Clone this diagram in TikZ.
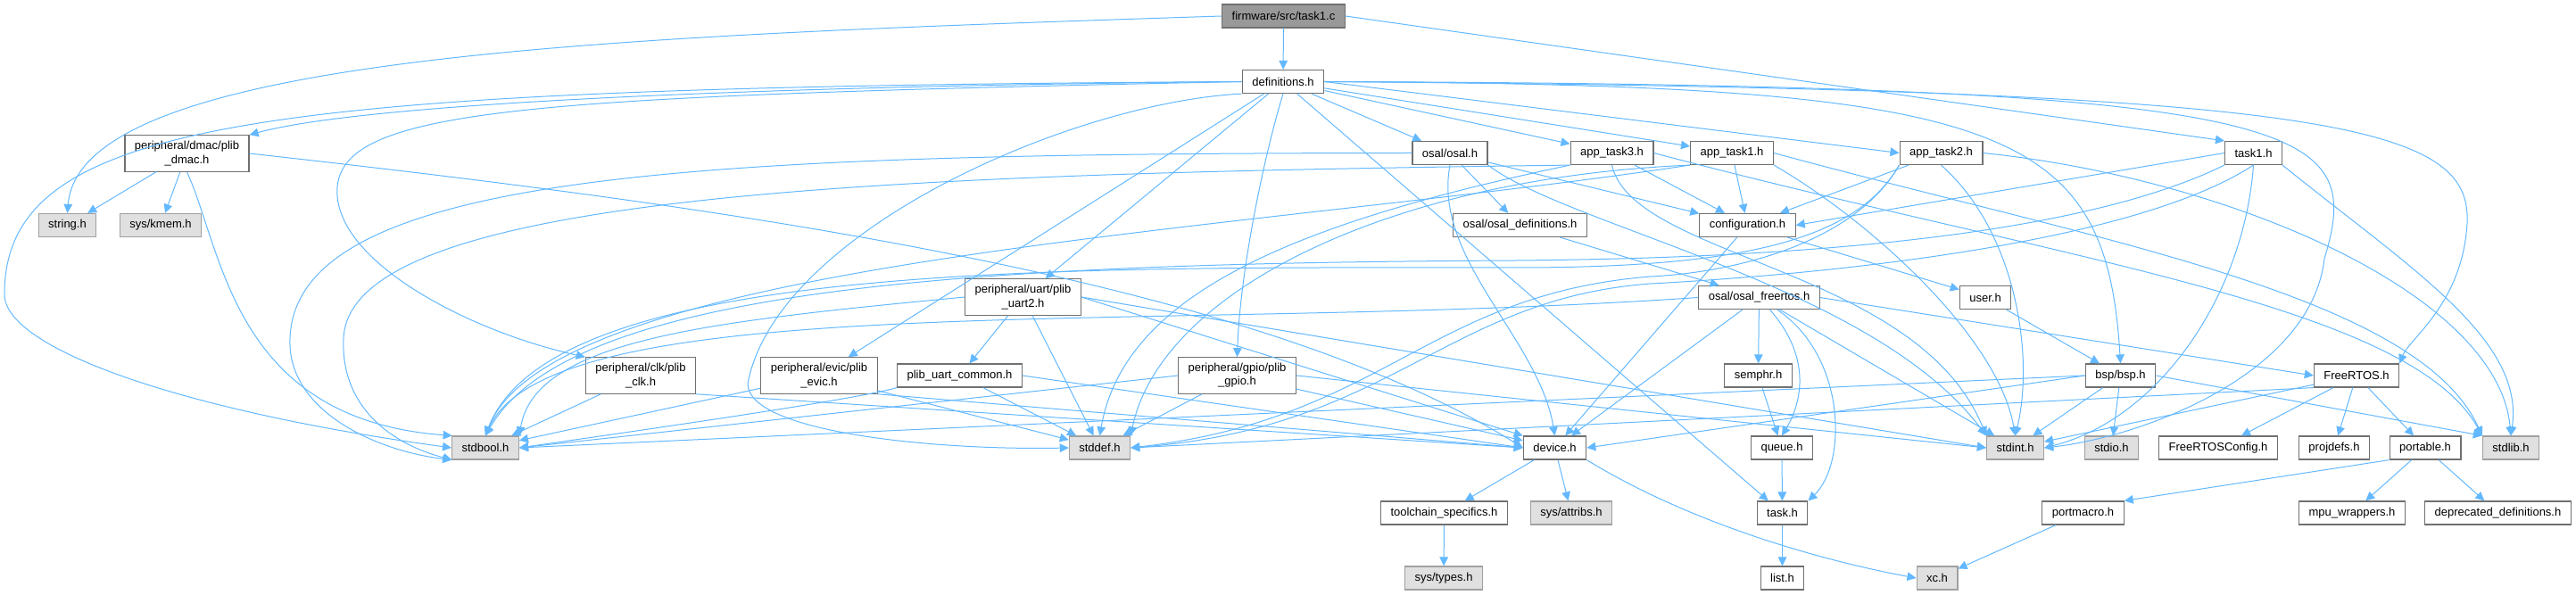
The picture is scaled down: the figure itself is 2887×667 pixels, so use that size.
\documentclass[tikz,border=0pt]{standalone}
\usepackage{fontspec}
\setmainfont{Liberation Sans}
\usepackage{tikz}
\usetikzlibrary{arrows.meta}
\definecolor{edgeblue}{HTML}{63B8FF}
\definecolor{boxline}{HTML}{707070}
\definecolor{sysline}{HTML}{A0A0A0}
\definecolor{sysfill}{HTML}{E0E0E0}
\definecolor{rootfill}{HTML}{999999}

\begin{document}
\begin{tikzpicture}[x=0.5pt, y=-0.5pt,
  file/.style={draw=boxline, fill=white, line width=0.6pt, font=\fontsize{6.5}{7.6}\selectfont,
    inner xsep=5.5pt, inner ysep=3.3pt, minimum height=13pt, align=center},
  sysfile/.style={file, draw=sysline, fill=sysfill},
  rootfile/.style={file, fill=rootfill},
  dep/.style={draw=edgeblue, line width=0.5pt, -{Triangle[length=5pt, width=4.8pt]}}]
  \useasboundingbox (0,0) rectangle (2887,667);

  % Files
  \node[rootfile] (task1c) at (1438.5,18) {firmware/src/task1.c};
  \node[file] (defs) at (1438,91.5) {definitions.h};
  \node[file] (dmac) at (209.5,172) {peripheral/dmac/plib\\\_dmac.h};
  \node[sysfile] (stringh) at (75.5,252.5) {string.h};
  \node[sysfile] (kmem) at (180,252.5) {sys/kmem.h};
  \node[file] (osal) at (1625,171.5) {osal/osal.h};
  \node[file] (apptask3) at (1806.5,171.5) {app\_task3.h};
  \node[file] (apptask1) at (1941,171.5) {app\_task1.h};
  \node[file] (apptask2) at (2175.5,171.5) {app\_task2.h};
  \node[file] (task1h) at (2525.5,171.5) {task1.h};
  \node[file] (osaldefs) at (1703.5,252.5) {osal/osal\_definitions.h};
  \node[file] (config) at (1958.5,252.5) {configuration.h};
  \node[file] (uart2) at (1146.5,333) {peripheral/uart/plib\\\_uart2.h};
  \node[file] (osalfreertos) at (1971.5,333.5) {osal/osal\_freertos.h};
  \node[file] (user) at (2225,333.5) {user.h};
  \node[file] (clk) at (718,421) {peripheral/clk/plib\\\_clk.h};
  \node[file] (evic) at (918,421) {peripheral/evic/plib\\\_evic.h};
  \node[file] (uartcommon) at (1075.5,421) {plib\_uart\_common.h};
  \node[file] (gpio) at (1386.5,421) {peripheral/gpio/plib\\\_gpio.h};
  \node[file] (semphr) at (1970.5,421) {semphr.h};
  \node[file] (bsp) at (2376.5,421) {bsp/bsp.h};
  \node[file] (freertos) at (2641,421) {FreeRTOS.h};
  \node[sysfile] (stdbool) at (544,502) {stdbool.h};
  \node[sysfile] (stddef) at (1232.5,502) {stddef.h};
  \node[file] (device) at (1742.5,502) {device.h};
  \node[file] (queue) at (1997,502) {queue.h};
  \node[sysfile] (stdint) at (2258.5,502) {stdint.h};
  \node[sysfile] (stdio) at (2366.5,502) {stdio.h};
  \node[file] (frconfig) at (2486,502) {FreeRTOSConfig.h};
  \node[file] (projdefs) at (2616,502) {projdefs.h};
  \node[file] (portable) at (2718,502) {portable.h};
  \node[sysfile] (stdlib) at (2814,502) {stdlib.h};
  \node[file] (toolchain) at (1618.5,575) {toolchain\_specifics.h};
  \node[sysfile] (attribs) at (1761,575) {sys/attribs.h};
  \node[file] (taskh) at (1997.5,575) {task.h};
  \node[file] (portmacro) at (2334.5,575) {portmacro.h};
  \node[file] (mpu) at (2636,575) {mpu\_wrappers.h};
  \node[file] (deprecated) at (2799.5,575) {deprecated\_definitions.h};
  \node[sysfile] (types) at (1618,648) {sys/types.h};
  \node[file] (list) at (1997.5,648) {list.h};
  \node[sysfile] (xc) at (2171,648) {xc.h};

  % task1.c
  \draw[dep] (task1c) -- (defs);
  \draw[dep] (task1c.west) .. controls (700,40) and (90,60) .. (stringh.north);
  \draw[dep] (task1c.east) -- (task1h.north west);

  % definitions.h
  \draw[dep] (defs.west) .. controls (800,97) and (400,118) .. (dmac.north east);
  \draw[dep] (defs.west) .. controls (300,98) and (5,130) .. (5,330) .. controls (5,390) and (200,460) .. (stdbool.west);
  \draw[dep] (defs.west) .. controls (600,108) and (385,120) .. (378,210) .. controls (372,290) and (520,370) .. (clk.north west);
  \draw[dep] (defs) -- (evic);
  \draw[dep] (defs) -- (uart2);
  \draw[dep] (defs.south) .. controls (1418,170) and (1390,300) .. (gpio.north);
  \draw[dep] (defs.south west) .. controls (1200,115) and (870,260) .. (838,430) .. controls (838,485) and (1050,505) .. (stddef.west);
  \draw[dep] (defs) -- (taskh);
  \draw[dep] (defs) -- (osal);
  \draw[dep] (defs) -- (apptask3);
  \draw[dep] (defs) -- (apptask1);
  \draw[dep] (defs.east) -- (apptask2.west);
  \draw[dep] (defs.east) .. controls (2250,95) and (2360,140) .. (bsp.north);
  \draw[dep] (defs.east) .. controls (2600,95) and (2650,140) .. (2605,290) .. controls (2590,420) and (2400,490) .. (stdint.east);
  \draw[dep] (defs.east) .. controls (2620,100) and (2770,140) .. (2765,250) .. controls (2760,340) and (2700,380) .. (freertos.north east);

  % peripheral libs
  \draw[dep] (dmac) -- (stringh);
  \draw[dep] (dmac) -- (kmem);
  \draw[dep] (dmac.south) .. controls (250,280) and (260,470) .. (stdbool.160);
  \draw[dep] (dmac.east) .. controls (800,230) and (1400,310) .. (device.west);
  \draw[dep] (clk) -- (stdbool);
  \draw[dep] (clk.south east) -- (device.west);
  \draw[dep] (evic) -- (stdbool);
  \draw[dep] (evic) -- (stddef);
  \draw[dep] (evic.south east) -- (device.west);
  \draw[dep] (uart2.west) .. controls (800,360) and (600,380) .. (stdbool.north east);
  \draw[dep] (uart2) -- (uartcommon);
  \draw[dep] (uart2) -- (stddef);
  \draw[dep] (uart2.east) -- (device.north west);
  \draw[dep] (uart2.east) -- (stdint.west);
  \draw[dep] (uartcommon.south west) .. controls (960,448) and (700,485) .. (stdbool.east);
  \draw[dep] (uartcommon) -- (stddef);
  \draw[dep] (uartcommon.east) -- (device.west);
  \draw[dep] (gpio.west) -- (stdbool.east);
  \draw[dep] (gpio) -- (stddef);
  \draw[dep] (gpio) -- (device);
  \draw[dep] (gpio.east) -- (stdint.west);

  % osal
  \draw[dep] (osal.west) .. controls (800,172) and (330,190) .. (325,380) .. controls (322,460) and (420,505) .. (stdbool.south west);
  \draw[dep] (osal.south) .. controls (1605,290) and (1725,380) .. (device.north);
  \draw[dep] (osal) -- (osaldefs);
  \draw[dep] (osal) -- (config);
  \draw[dep] (osal.south east) .. controls (1760,255) and (2100,320) .. (stdint.north west);
  \draw[dep] (osaldefs) -- (osalfreertos);

  % app headers
  \draw[dep] (apptask3.south west) .. controls (1000,195) and (390,215) .. (385,380) .. controls (382,450) and (430,495) .. (stdbool.200);
  \draw[dep] (apptask3.south west) .. controls (1450,250) and (1260,330) .. (stddef.north);
  \draw[dep] (apptask3.south) .. controls (1830,290) and (2150,300) .. (stdint.north west);
  \draw[dep] (apptask3) -- (config);
  \draw[dep] (apptask3.east) .. controls (2300,290) and (2700,340) .. (stdlib.north west);
  \draw[dep] (apptask1.south west) .. controls (1400,260) and (620,290) .. (stdbool.north);
  \draw[dep] (apptask1.south west) .. controls (1550,200) and (1300,330) .. (stddef.north east);
  \draw[dep] (apptask1.south east) .. controls (2100,250) and (2240,380) .. (stdint.north);
  \draw[dep] (apptask1) -- (config);
  \draw[dep] (apptask1.east) .. controls (2350,270) and (2710,330) .. (stdlib.north west);
  \draw[dep] (apptask2.south west) .. controls (2080,270) and (1950,300) .. (1700,300) .. controls (1200,300) and (620,290) .. (stdbool.north);
  \draw[dep] (apptask2.south west) .. controls (2080,270) and (1950,305) .. (1850,310) .. controls (1600,330) and (1550,470) .. (stddef.east);
  \draw[dep] (apptask2.south) .. controls (2260,260) and (2280,400) .. (stdint.north);
  \draw[dep] (apptask2) -- (config);
  \draw[dep] (apptask2.east) .. controls (2500,200) and (2800,330) .. (stdlib.north);
  \draw[dep] (task1h.west) -- (config.east);
  \draw[dep] (task1h.south west) .. controls (2300,280) and (1900,290) .. (1700,292) .. controls (1100,295) and (640,320) .. (stdbool.north);
  \draw[dep] (task1h.south) .. controls (2380,280) and (2000,310) .. (1850,318) .. controls (1620,335) and (1560,480) .. (stddef.east);
  \draw[dep] (task1h.south) .. controls (2515,330) and (2420,470) .. (stdint.east);
  \draw[dep] (task1h.south east) .. controls (2700,300) and (2830,380) .. (stdlib.north);
  \draw[dep] (config) -- (device);
  \draw[dep] (config) -- (user);
  \draw[dep] (user) -- (bsp);

  % osal_freertos.h
  \draw[dep] (osalfreertos.west) .. controls (1300,375) and (620,320) .. (stdbool.north);
  \draw[dep] (osalfreertos) -- (device);
  \draw[dep] (osalfreertos) -- (semphr);
  \draw[dep] (osalfreertos) .. controls (2030,400) and (2020,450) .. (queue.north);
  \draw[dep] (osalfreertos) .. controls (2070,400) and (2070,520) .. (taskh.north east);
  \draw[dep] (osalfreertos) -- (stdint);
  \draw[dep] (osalfreertos.east) -- (freertos.west);
  \draw[dep] (semphr) -- (queue);
  \draw[dep] (queue) -- (taskh);
  \draw[dep] (taskh) -- (list);

  % bsp.h and FreeRTOS.h
  \draw[dep] (bsp.west) -- (device.east);
  \draw[dep] (bsp.west) -- (stdbool.east);
  \draw[dep] (bsp) -- (stdint);
  \draw[dep] (bsp) -- (stdio);
  \draw[dep] (bsp.east) -- (stdlib.north west);
  \draw[dep] (freertos.south west) -- (stddef.east);
  \draw[dep] (freertos) -- (stdint);
  \draw[dep] (freertos) -- (frconfig);
  \draw[dep] (freertos) -- (projdefs);
  \draw[dep] (freertos) -- (portable);
  \draw[dep] (portable.south west) -- (portmacro.north east);
  \draw[dep] (portable) -- (mpu);
  \draw[dep] (portable) -- (deprecated);
  \draw[dep] (portmacro) -- (xc);

  % device.h
  \draw[dep] (device) -- (toolchain);
  \draw[dep] (device) -- (attribs);
  \draw[dep] (device.south east) .. controls (1900,590) and (2050,630) .. (xc.west);
  \draw[dep] (toolchain) -- (types);
\end{tikzpicture}
\end{document}
